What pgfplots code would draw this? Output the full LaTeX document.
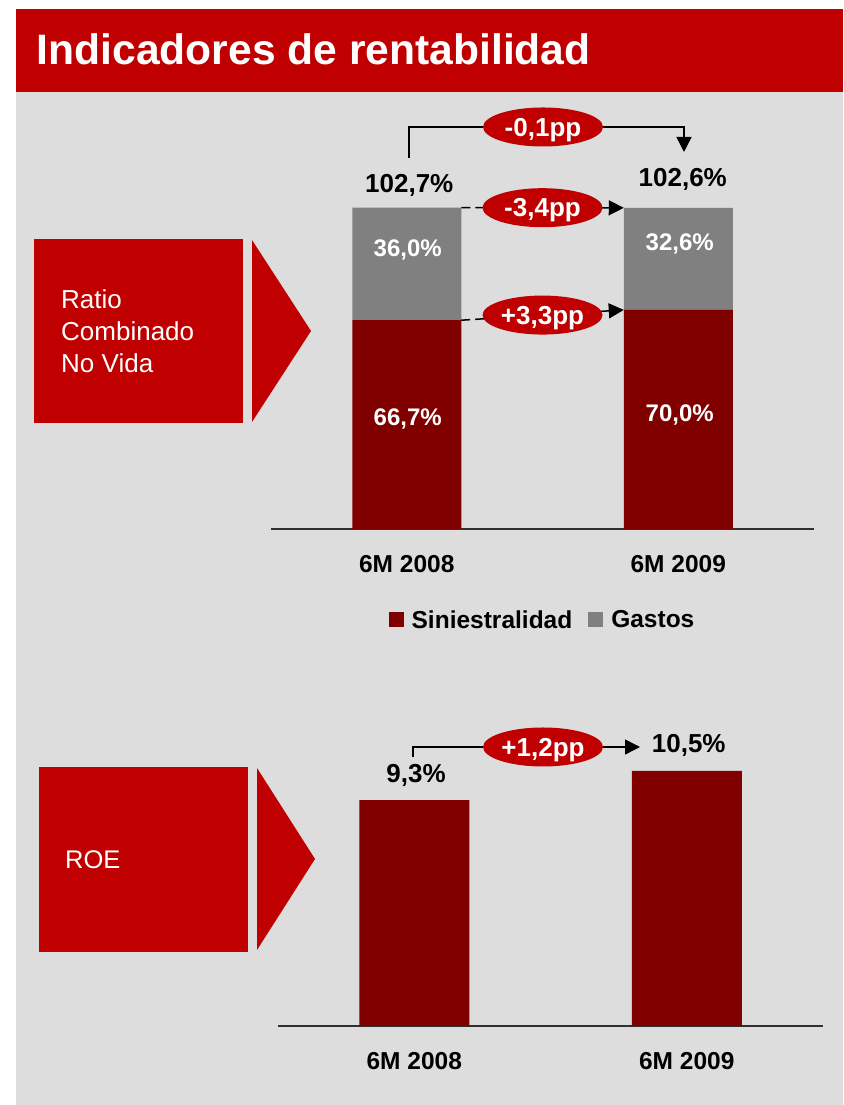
\documentclass[border=0pt]{standalone}
\usepackage{fontspec}
\setmainfont{Liberation Sans}
\usepackage{pgfplots}
\pgfplotsset{compat=1.18}
\usetikzlibrary{arrows.meta,shapes.geometric,calc}
\definecolor{titlered}{HTML}{C00000}
\definecolor{barred}{HTML}{800000}
\definecolor{bargray}{HTML}{808080}
\definecolor{panel}{HTML}{DDDDDD}
\definecolor{axisgray}{HTML}{303030}
\newcommand\fs[2]{\fontsize{#1}{#2}\selectfont}
\tikzset{
  pill/.style={ellipse, fill=titlered, minimum width=120pt, minimum height=39pt, inner sep=0pt, text=white, text height=18.6pt, text depth=0pt, font=\bfseries\fs{26}{26}},
  arr/.style={line width=1.5pt, -{Triangle[length=15pt,width=15pt]}},
  darr/.style={line width=1.5pt, dash pattern=on 9pt off 5pt, -{Triangle[length=15pt,width=15pt]}},
  inlbl/.style={anchor=base, text=white, font=\bfseries\fs{24}{24}},
}
\begin{document}
\begin{tikzpicture}
\useasboundingbox (0,0) rectangle (843pt,1105pt);
\fill[white] (0,0) rectangle (843pt,1105pt);
\fill[panel] (16pt,0pt) rectangle (843pt,1013pt);
\fill[titlered] (16pt,1013pt) rectangle (843pt,1096pt);
\node[anchor=base west, inner sep=0pt, text=white, font=\bfseries\fs{42.6}{43}] at (36.5pt,1040pt) {Indicadores de rentabilidad};

% left boxes
\fill[titlered] (34pt,682pt) rectangle (243pt,866pt);
\fill[titlered] (252pt,865pt) -- (252pt,683pt) -- (311pt,774pt) -- cycle;
\node[anchor=base west, inner sep=0pt, text=white, align=left, font=\fs{26}{32}] at (61pt,732pt) {Ratio\\Combinado\\No Vida};
\fill[titlered] (39pt,153pt) rectangle (248pt,338pt);
\fill[titlered] (257pt,337pt) -- (257pt,155pt) -- (315pt,246pt) -- cycle;
\node[anchor=base west, inner sep=0pt, text=white, font=\fs{25.5}{30}] at (65pt,236pt) {ROE};

% top chart
\begin{axis}[
  at={(271pt,576pt)}, anchor=south west,
  scale only axis, width=543pt, height=344.3pt,
  xmin=-0.5, xmax=1.5, ymin=0, ymax=110,
  ybar stacked, bar width=109pt,
  axis x line=bottom, axis y line=none,
  x axis line style={-, line width=1.5pt, color=axisgray},
  xtick={0,1}, xticklabels={6M 2008,6M 2009},
  major tick length=0pt,
  xticklabel style={anchor=base, yshift=-44pt, font=\bfseries\fs{24.5}{24.5}},
  clip=false,
  legend columns=2,
  legend style={at={(0.5,-0.264)}, anchor=center, draw=none, fill=none,
    font=\bfseries\fs{24.5}{24.5}, inner sep=0pt,
    /tikz/every odd column/.append style={column sep=6pt},
    /tikz/every even column/.append style={column sep=14pt}},
  legend image code/.code={\fill[#1] (0pt,-7pt) rectangle (15pt,8pt);},
]
\addplot[fill=barred, draw=none] coordinates {(0,66.7) (1,70.0)};
\addplot[fill=bargray, draw=none] coordinates {(0,36.0) (1,32.6)};
\legend{Siniestralidad, Gastos}
\coordinate (T1) at (axis cs:0,102.7);
\coordinate (T2) at (axis cs:1,102.6);
\coordinate (R1) at (axis cs:0,66.7);
\coordinate (R2) at (axis cs:1,70.0);
\coordinate (G1L) at ([xshift=1pt]axis cs:0,87.2);
\coordinate (G2L) at ([xshift=1.5pt]axis cs:1,89.1);
\coordinate (S1L) at ([xshift=1pt]axis cs:0,33.2);
\coordinate (S2L) at ([xshift=1.5pt]axis cs:1,34.2);
\node[anchor=base, font=\bfseries\fs{26}{26}] at ([xshift=2.5pt,yshift=14.6pt]axis cs:0,102.7) {102,7\%};
\node[anchor=base, font=\bfseries\fs{26}{26}] at ([xshift=4.5pt,yshift=20.9pt]axis cs:1,102.6) {102,6\%};
\end{axis}
\node[inlbl] at (G1L) {36,0\%};
\node[inlbl] at (G2L) {32,6\%};
\node[inlbl] at (S1L) {66,7\%};
\node[inlbl] at (S2L) {70,0\%};

\draw[darr] ([xshift=54.5pt]T1) -- ([xshift=-54.5pt]T2);
\node[pill] at ($([xshift=54.5pt]T1)!0.5!([xshift=-54.5pt]T2)$) {-3,4pp};
\draw[darr] ([xshift=54.5pt]R1) -- ([xshift=-54.5pt]R2);
\node[pill] at ($([xshift=54.5pt]R1)!0.5!([xshift=-54.5pt]R2)$) {+3,3pp};
\draw[arr] (409pt,947pt) -- (409pt,978pt) -- (684pt,978pt) -- (684pt,953pt);
\node[pill] at (543pt,978pt) {-0,1pp};

% ROE chart
\begin{axis}[
  at={(278pt,79pt)}, anchor=south west,
  scale only axis, width=545pt, height=291.6pt,
  xmin=-0.5, xmax=1.5, ymin=0, ymax=12,
  ybar, bar width=110pt,
  axis x line=bottom, axis y line=none,
  x axis line style={-, line width=1.5pt, color=axisgray},
  xtick={0,1}, xticklabels={6M 2008,6M 2009},
  major tick length=0pt,
  xticklabel style={anchor=base, yshift=-44pt, font=\bfseries\fs{24.5}{24.5}},
  clip=false,
]
\addplot[fill=barred, draw=none] coordinates {(0,9.3) (1,10.5)};
\node[anchor=base, font=\bfseries\fs{26}{26}] at ([xshift=1.75pt,yshift=18pt]axis cs:0,9.3) {9,3\%};
\node[anchor=base, font=\bfseries\fs{26}{26}] at ([xshift=2pt,yshift=18pt]axis cs:1,10.5) {10,5\%};
\end{axis}
\draw[arr] (413pt,348pt) -- (413pt,358pt) -- (640pt,358pt);
\node[pill] at (543pt,358pt) {+1,2pp};
\end{tikzpicture}
\end{document}
